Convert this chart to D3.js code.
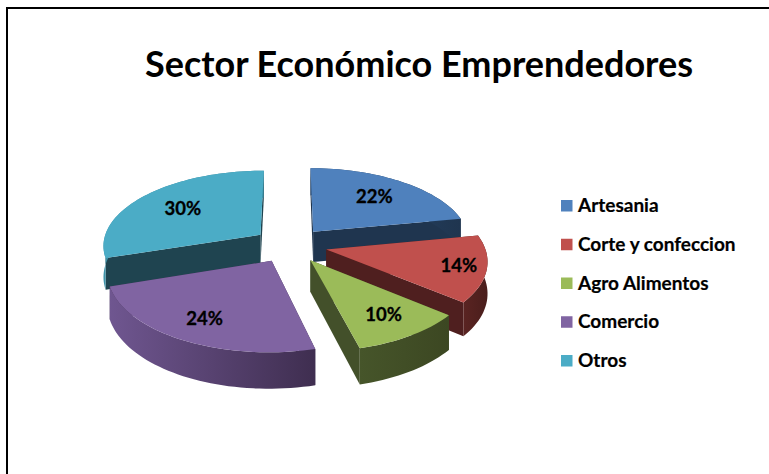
<!DOCTYPE html>
<html><head><meta charset="utf-8">
<script src="https://cdn.jsdelivr.net/npm/d3@7"></script>
<style>html,body{margin:0;padding:0;background:#fff}svg{display:block}</style>
</head><body><div id="c"></div>
<script>
const categories = ["Artesania","Corte y confeccion","Agro Alimentos","Comercio","Otros"];
const values = [22,14,10,24,30];
const chartTitle = "Sector Económico Emprendedores";
const topColors = ["#4f81bd","#c0504d","#9bbb59","#8064a2","#4bacc6"];
const wallColors = ["#1f354f","#4f1f1f","#43502a","#3f3050","#1f4450"];
const rimLight = ["#2a4a70","#5a2422","#46552a","#6f5690","#3f94aa"];
const rimDark = ["#1f354f","#4a1e1c","#3c4722","#3f2e50","#357f92"];

// layout
const W=769,H=474, cx=290, cy=245, A=158, B=75, K=0.13, explode=0.235, depth=31;
const labelFrac=[0.68,0.83,0.75,0.76,0.66];
const drawOrder=[4,0,1,3,2];

const svg=d3.select("#c").append("svg").attr("width",W).attr("height",H).style("font-family","Lato, 'Open Sans', sans-serif");
const defs=svg.append("defs");

function project(x,z,h){
  const s=1/(1-K*z);
  return [cx+A*x*s, cy+B*z*s+(h||0)*s*0.95+ (h?depth*0.05:0)];
}
const pieGen=d3.pie().sort(null).value(d=>d);
const arcs=pieGen(values);
const line=d3.line();

function slicePts(a){
  const mid=(a.startAngle+a.endAngle)/2;
  const ox=explode*Math.sin(mid), oz=-explode*Math.cos(mid);
  const n=Math.max(8,Math.round((a.endAngle-a.startAngle)*30));
  const ts=d3.range(n+1).map(i=>a.startAngle+(a.endAngle-a.startAngle)*i/n);
  return {ox,oz,mid,ts};
}

svg.append("path").attr("d",line([[7,474],[7,8],[769,8]]))
  .attr("fill","none").attr("stroke","#000").attr("stroke-width",2);

svg.append("text").attr("x",419).attr("y",77).attr("text-anchor","middle")
  .attr("font-size",36).attr("font-weight",700).attr("fill","#000").text(chartTitle);

drawOrder.forEach(i=>{
  const a=arcs[i], {ox,oz,mid,ts}=slicePts(a);
  const P=(r,t,h)=>project(ox+r*Math.sin(t),oz-r*Math.cos(t),h);
  const g=svg.append("g");
  const apexT=P(0,0,0), apexB=P(0,0,depth);
  // cut walls
  [a.startAngle,a.endAngle].forEach(t=>{
    g.append("path").attr("d",line([apexT,P(1,t,0),P(1,t,depth),apexB])+"Z")
     .attr("fill",wallColors[i]);
  });
  // rim
  const topArc=ts.map(t=>P(1,t,0));
  const botArc=ts.map(t=>P(1,t,depth)).reverse();
  const xs=topArc.map(p=>p[0]);
  const id="rim"+i;
  const gr=defs.append("linearGradient").attr("id",id).attr("gradientUnits","userSpaceOnUse")
    .attr("x1",d3.min(xs)).attr("x2",d3.max(xs)).attr("y1",0).attr("y2",0);
  gr.append("stop").attr("offset",0).attr("stop-color",rimLight[i]);
  gr.append("stop").attr("offset",1).attr("stop-color",rimDark[i]);
  g.append("path").attr("d",line(topArc.concat(botArc))+"Z").attr("fill",`url(#${id})`);
  // top
  g.append("path").attr("d",line([apexT].concat(topArc))+"Z").attr("fill",topColors[i]);
});

// data labels
arcs.forEach((a,i)=>{
  const {ox,oz,mid}=slicePts(a);
  const p=project(ox+labelFrac[i]*Math.sin(mid),oz-labelFrac[i]*Math.cos(mid),0);
  svg.append("text").attr("x",p[0]).attr("y",p[1]+6.5).attr("text-anchor","middle")
    .attr("font-size",18.5).attr("font-weight",700).attr("fill","#000")
    .attr("stroke","#000").attr("stroke-width",0.3)
    .text(Math.round(a.value/d3.sum(values)*100)+"%");
});

// legend
const ly=d3.scalePoint().domain(categories).range([205,360]);
categories.forEach((c,i)=>{
  svg.append("rect").attr("x",561).attr("y",ly(c)-5).attr("width",11.5).attr("height",11.5).attr("fill",topColors[i]);
  svg.append("text").attr("x",578).attr("y",ly(c)+7).attr("font-size",19).attr("font-weight",700).attr("fill","#000")
    .attr("stroke","#000").attr("stroke-width",0.2).text(c);
});
</script></body></html>
